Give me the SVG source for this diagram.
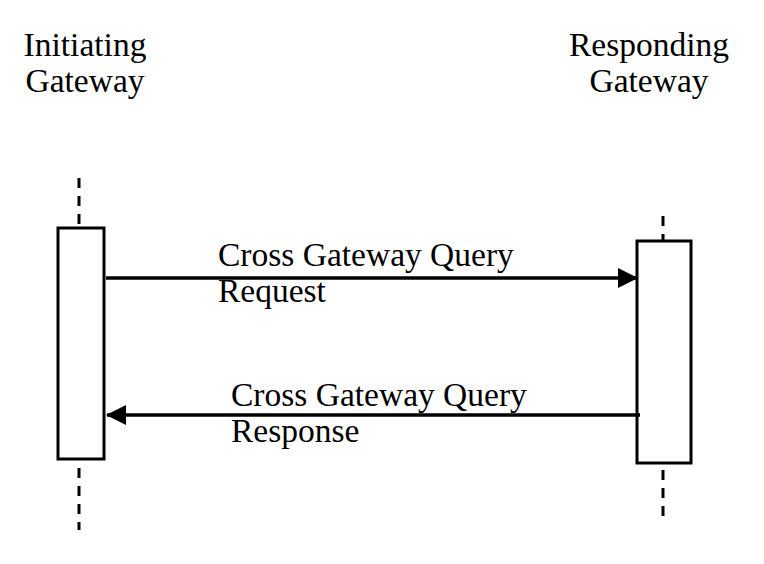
<svg xmlns="http://www.w3.org/2000/svg" width="764" height="564" viewBox="0 0 764 564">
<style>
text{font-family:"Liberation Serif","Times New Roman",serif;font-size:33.5px;fill:#000}
.box{fill:#fff;stroke:#000;stroke-width:3}
.life{stroke:#000;stroke-width:3;stroke-dasharray:10 8;fill:none}
.msg{stroke:#000;stroke-width:3.5;fill:none}
</style>
<defs>
<marker id="ah" markerWidth="20" markerHeight="20" refX="19" refY="10" orient="auto" markerUnits="userSpaceOnUse" viewBox="0 0 20 20">
<path d="M0,0 L20,10 L0,20 Z" fill="#000"/>
</marker>
</defs>
<g id="initiating">
<text x="85" y="56" text-anchor="middle">Initiating</text>
<text x="85" y="92" text-anchor="middle">Gateway</text>
<line class="life" x1="79" y1="178" x2="79" y2="228"/>
<line class="life" x1="79" y1="468" x2="79" y2="530"/>
<rect class="box" x="58" y="228" width="46" height="231"/>
</g>
<g id="responding">
<text x="649" y="56" text-anchor="middle">Responding</text>
<text x="649" y="92" text-anchor="middle">Gateway</text>
<line class="life" x1="663" y1="216" x2="663" y2="241"/>
<line class="life" x1="663" y1="470" x2="663" y2="516"/>
<rect class="box" x="637" y="241" width="54" height="222"/>
</g>
<g id="connectors">
<line class="msg" x1="106" y1="278" x2="637" y2="278" marker-end="url(#ah)"/>
<line class="msg" x1="640" y1="415" x2="107" y2="415" marker-end="url(#ah)"/>
</g>
<g id="labels">
<text x="218" y="266">Cross Gateway Query</text>
<text x="218" y="302">Request</text>
<text x="231" y="406">Cross Gateway Query</text>
<text x="231" y="442">Response</text>
</g>
</svg>
